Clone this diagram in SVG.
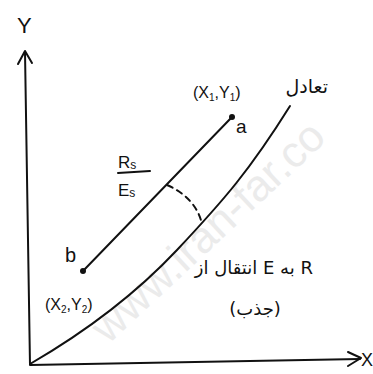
<svg xmlns="http://www.w3.org/2000/svg" width="373" height="374" viewBox="0 0 373 374">
<style>
.ln{fill:none;stroke:#111;stroke-width:2;stroke-linecap:round;stroke-linejoin:round}
.t{font-family:"Liberation Sans","DejaVu Sans",sans-serif;fill:#111}
.fa{font-family:"DejaVu Sans","Noto Sans",sans-serif;fill:#111}
.wm{font-family:"Liberation Sans",sans-serif;fill:#ebebeb}
</style>
<rect width="373" height="374" fill="#fff"/>
<text class="wm" x="0" y="0" font-size="44" transform="translate(108,345) rotate(-43)">www.iran-far.co</text>
<g id="axes">
<path class="ln" d="M25,52 L30,365 L360,359"/>
<path class="ln" d="M18,64 L25,51 L32,63"/>
<path class="ln" d="M348,352 L361,358 L348,366"/>
<text class="t" x="17" y="33" font-size="22">Y</text>
<text class="t" x="361" y="366" font-size="18">X</text>
</g>
<g id="connectors">
<path id="curve" class="ln" d="M30,364 C80,335 130,300 177,250 S250,170 290,106"/>
<line id="ab" class="ln" x1="232" y1="117" x2="83" y2="271"/>
<path id="angle" class="ln" d="M167,185 Q196,198 202,224" stroke-dasharray="6,5"/>
</g>
<g id="node-a">
<circle cx="232" cy="117" r="3" fill="#111"/>
<text class="t" x="236" y="133" font-size="19">a</text>
<text class="t" x="193" y="98" font-size="16">(X<tspan font-size="10" dy="3">1</tspan><tspan dy="-3">,Y</tspan><tspan font-size="10" dy="3">1</tspan><tspan dy="-3">)</tspan></text>
<text class="fa" x="328" y="93" font-size="19" text-anchor="end">تعادل</text>
</g>
<g id="node-b">
<circle cx="83" cy="271" r="3" fill="#111"/>
<text class="t" x="65" y="262" font-size="20">b</text>
<text class="t" x="45" y="310" font-size="16">(X<tspan font-size="10" dy="3">2</tspan><tspan dy="-3">,Y</tspan><tspan font-size="10" dy="3">2</tspan><tspan dy="-3">)</tspan></text>
</g>
<g id="label-ratio">
<text class="t" x="118" y="168" font-size="17">R<tspan font-size="12" dy="1">s</tspan></text>
<line class="ln" x1="118" y1="173" x2="150" y2="171" stroke-width="1.5"/>
<text class="t" x="118" y="196" font-size="17">E<tspan font-size="12" dy="1">s</tspan></text>
</g>
<g id="label-transition">
<text class="fa" x="313" y="274" font-size="18" text-anchor="end">انتقال از E به R</text>
<text class="fa" x="255" y="315" font-size="18" text-anchor="middle">(جذب)</text>
</g>
</svg>
